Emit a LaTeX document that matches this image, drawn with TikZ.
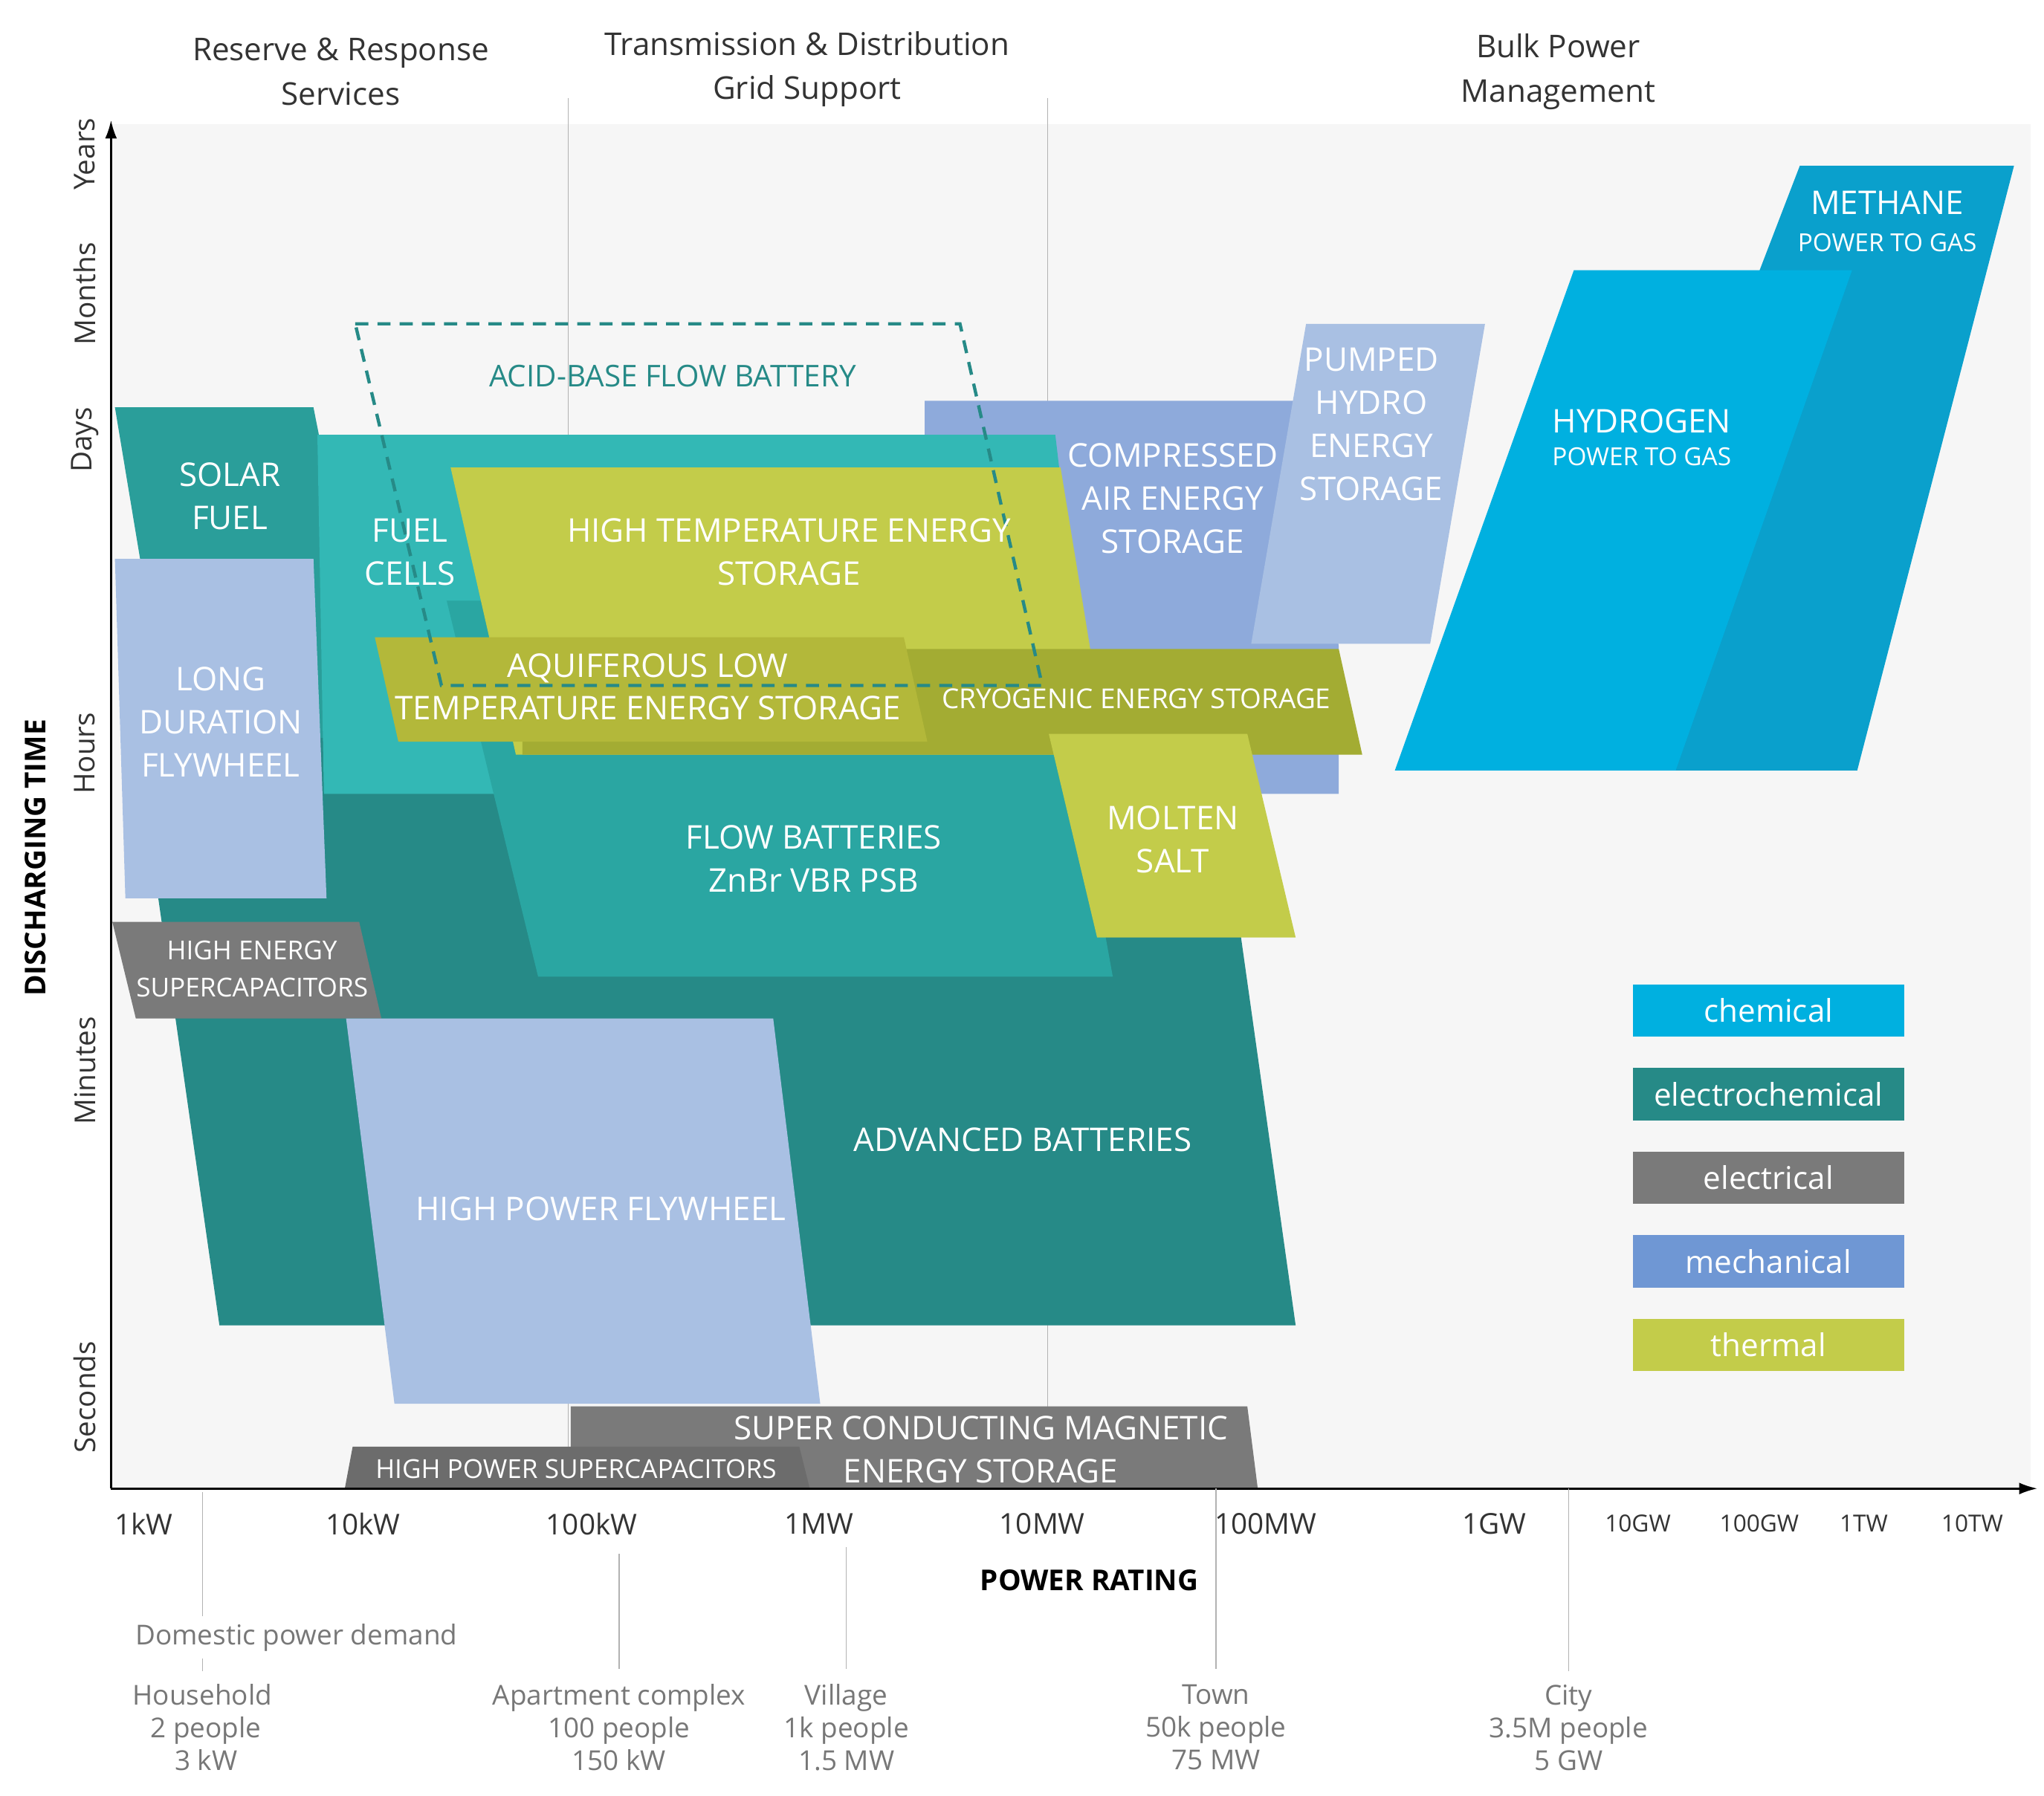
\documentclass[tikz,border=0pt]{standalone}
\usepackage{fontspec}
\setmainfont{Open Sans}
\usetikzlibrary{arrows.meta}
\definecolor{chem}{HTML}{00B0E0}
\definecolor{chemB}{HTML}{0AA0CC}
\definecolor{echem}{HTML}{268A87}
\definecolor{echemB}{HTML}{2A9E9A}
\definecolor{echemC}{HTML}{33B8B5}
\definecolor{echemD}{HTML}{2AA6A2}
\definecolor{elec}{HTML}{7A7A7A}
\definecolor{elecB}{HTML}{6C6C6C}
\definecolor{mech}{HTML}{6F97D4}
\definecolor{mechB}{HTML}{8EAADB}
\definecolor{mechL}{HTML}{A9C0E3}
\definecolor{therm}{HTML}{C3CC4A}
\definecolor{thermB}{HTML}{B3B83A}
\definecolor{thermC}{HTML}{A3AC33}
\definecolor{txt}{HTML}{333333}
\definecolor{sub}{HTML}{777777}
\tikzset{
 lab/.style={text=white,align=center,font=\fontsize{25}{33}\selectfont},
 slab/.style={text=white,align=center,font=\fontsize{20}{28}\selectfont},
 hdr/.style={text=txt,align=center,font=\fontsize{24}{34}\selectfont},
 tick/.style={text=txt,font=\fontsize{22}{26}\selectfont},
 stick/.style={text=txt,font=\fontsize{18}{22}\selectfont},
 ylab/.style={text=txt,rotate=90,font=\fontsize{22}{26}\selectfont},
 note/.style={text=sub,align=center,font=\fontsize{21}{25}\selectfont},
 guide/.style={draw=gray!60,line width=0.8pt},
 leg/.style={minimum width=208pt,minimum height=40pt,inner sep=0pt,text=white,font=\fontsize{24}{28}\selectfont},
}
\begin{document}
\begin{tikzpicture}[x=1pt,y=-1pt]
\useasboundingbox (0,0) rectangle (1565,1375);
\fill[white] (0,0) rectangle (1565,1375);
\fill[gray!7] (85,95) rectangle (1555,1140);
% vertical guides
\draw[guide] (435,75) -- (435,1140);
\draw[guide] (802,75) -- (802,1140);
% shapes
\fill[echem] (90,470) -- (915,468) -- (992,1015) -- (168,1015) -- cycle;
\fill[echemB] (88,312) -- (240,312) -- (290,565) -- (130,565) -- cycle;
\fill[mechB] (708,307) -- (1000,307) -- (1025,495) -- (1025,608) -- (960,608) -- (708,500) -- cycle;
\fill[echemC] (243,333) -- (808,333) -- (840,608) -- (248,608) -- cycle;
\fill[echemD] (342,460) -- (800,460) -- (852,748) -- (412,748) -- cycle;
\fill[mechL] (1000,248) -- (1137,248) -- (1095,493) -- (958,493) -- cycle;
\fill[therm] (345,358) -- (812,358) -- (848,578) -- (395,578) -- cycle;
\fill[thermC] (400,497) -- (1025,497) -- (1043,578) -- (400,578) -- cycle;
\fill[thermB] (287,488) -- (692,488) -- (710,568) -- (305,568) -- cycle;
\fill[therm] (803,562) -- (955,562) -- (992,718) -- (840,718) -- cycle;
\fill[mechL] (88,428) -- (240,428) -- (250,688) -- (96,688) -- cycle;
\fill[elec] (86,706) -- (275,706) -- (292,780) -- (104,780) -- cycle;
\fill[mechL] (265,780) -- (592,780) -- (628,1075) -- (302,1075) -- cycle;
\fill[elec] (437,1077) -- (955,1077) -- (963,1140) -- (437,1140) -- cycle;
\fill[elecB] (270,1108) -- (612,1108) -- (620,1140) -- (264,1140) -- cycle;
\fill[chemB] (1378,127) -- (1542,127) -- (1422,590) -- (1200,590) -- cycle;
\fill[chem] (1205,207) -- (1418,207) -- (1283,590) -- (1068,590) -- cycle;
\draw[echem,line width=2.5pt,dash pattern=on 10pt off 7pt] (272,248) -- (735,248) -- (798,525) -- (338,525) -- cycle;
% labels
\node[text=echem,font=\fontsize{23}{28}\selectfont] (acid) at (515,288) {ACID-BASE FLOW BATTERY};
\node[lab] (solar) at (176,380) {SOLAR\\FUEL};
\node[lab] (fuel) at (314,423) {FUEL\\CELLS};
\node[lab] (hte) at (604,423) {HIGH TEMPERATURE ENERGY\\STORAGE};
\node[lab] (caes) at (898,382) {COMPRESSED\\AIR ENERGY\\STORAGE};
\node[lab] (phes) at (1050,325) {PUMPED\\HYDRO\\ENERGY\\STORAGE};
\node[lab] (h2) at (1257,335) {HYDROGEN\\[-8pt]{\fontsize{19}{24}\selectfont POWER TO GAS}};
\node[lab] (ch4) at (1445,155) {METHANE};
\node[slab,font=\fontsize{19}{24}\selectfont] (ch4b) at (1445,186) {POWER TO GAS};
\node[lab] (aq) at (496,526) {AQUIFEROUS LOW\\TEMPERATURE ENERGY STORAGE};
\node[slab,font=\fontsize{21}{26}\selectfont] (cryo) at (870,535) {CRYOGENIC ENERGY STORAGE};
\node[lab] (ldf) at (169,553) {LONG\\DURATION\\FLYWHEEL};
\node[lab] (flow) at (623,658) {FLOW BATTERIES\\ZnBr VBR PSB};
\node[lab] (molten) at (898,643) {MOLTEN\\SALT};
\node[slab] (hes) at (193,742) {HIGH ENERGY\\SUPERCAPACITORS};
\node[lab] (adv) at (783,873) {ADVANCED BATTERIES};
\node[lab] (hpf) at (460,926) {HIGH POWER FLYWHEEL};
\node[lab] (smes) at (751,1110) {SUPER CONDUCTING MAGNETIC\\ENERGY STORAGE};
\node[slab] (hps) at (441,1125) {HIGH POWER SUPERCAPACITORS};
% axes
\draw[black,line width=1.5pt,-{Latex[length=14pt,width=9pt]}] (85,1140) -- (85,92);
\draw[black,line width=1.5pt,-{Latex[length=14pt,width=9pt]}] (85,1140) -- (1560,1140);
% y labels
\node[ylab] (years) at (65,118) {Years};
\node[ylab] (months) at (65,225) {Months};
\node[ylab] (days) at (65,337) {Days};
\node[ylab] (hours) at (65,577) {Hours};
\node[ylab] (minutes) at (65,820) {Minutes};
\node[ylab] (seconds) at (65,1070) {Seconds};
\node[text=black,rotate=90,font=\bfseries\fontsize{22}{26}\selectfont] (dt) at (27,657) {DISCHARGING TIME};
% x labels
\node[tick] (t1) at (110,1167) {1kW};
\node[tick] (t2) at (278,1167) {10kW};
\node[tick] (t3) at (453,1167) {100kW};
\node[tick] (t4) at (627,1167) {1MW};
\node[tick] (t5) at (798,1167) {10MW};
\node[tick] (t6) at (969,1167) {100MW};
\node[tick] (t7) at (1144,1167) {1GW};
\node[stick] (t8) at (1254,1167) {10GW};
\node[stick] (t9) at (1347,1167) {100GW};
\node[stick] (t10) at (1427,1167) {1TW};
\node[stick] (t11) at (1510,1167) {10TW};
\node[text=black,font=\bfseries\fontsize{22}{26}\selectfont] (pr) at (834,1210) {POWER RATING};
% headers
\node[hdr] (h1) at (261,55) {Reserve \& Response\\Services};
\node[hdr] (h2t) at (618,53) {Transmission \& Distribution\\Grid Support};
\node[hdr] (h3) at (1193,55) {Bulk Power\\Management};
% bottom
\draw[guide] (155,1143) -- (155,1238);
\draw[guide] (155,1270) -- (155,1280);
\draw[guide] (474,1190) -- (474,1278);
\draw[guide] (648,1185) -- (648,1278);
\draw[guide] (931,1140) -- (931,1278);
\draw[guide] (1201,1140) -- (1201,1280);
\node[note] (dom) at (227,1254) {Domestic power demand};
\node[note] (hh) at (155,1323) {Household\\~2 people\\~3 kW};
\node[note] (apt) at (474,1323) {Apartment complex\\100 people\\150 kW};
\node[note] (vil) at (648,1323) {Village\\1k people\\1.5 MW};
\node[note] (town) at (931,1323) {Town\\50k people\\75 MW};
\node[note] (city) at (1201,1323) {City\\3.5M people\\5 GW};
% legend
\node[leg,fill=chem] (l1) at (1354,774) {chemical};
\node[leg,fill=echem] (l2) at (1354,838) {electrochemical};
\node[leg,fill=elec] (l3) at (1354,902) {electrical};
\node[leg,fill=mech] (l4) at (1354,966) {mechanical};
\node[leg,fill=therm] (l5) at (1354,1030) {thermal};
\end{tikzpicture}
\end{document}
